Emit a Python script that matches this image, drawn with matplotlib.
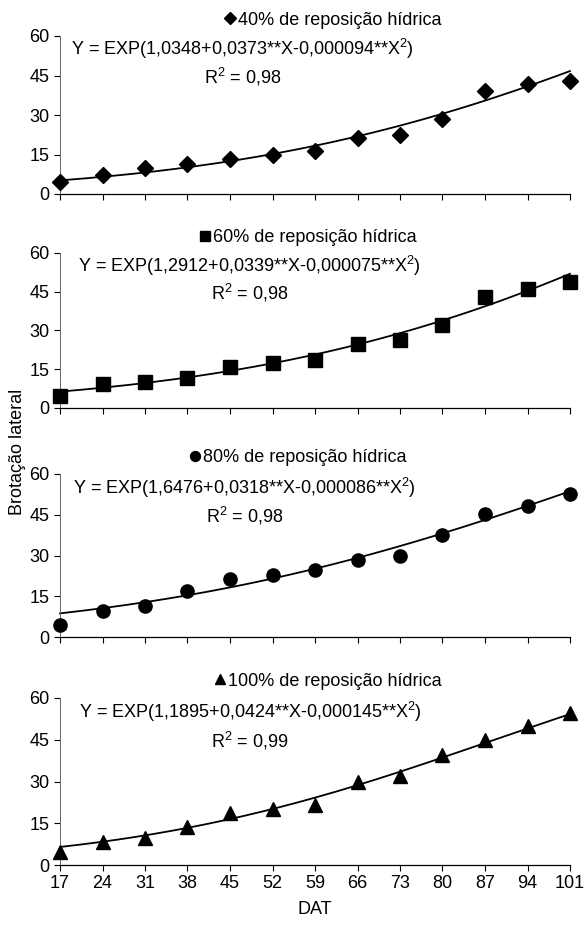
import matplotlib.pyplot as plt
import numpy as np

plt.rcParams["font.family"] = ["Liberation Sans", "DejaVu Sans"]
plt.rcParams["mathtext.fontset"] = "custom"
plt.rcParams["mathtext.rm"] = "Liberation Sans"

# Dias após o transplantio (DAT)
dat = [17, 24, 31, 38, 45, 52, 59, 66, 73, 80, 87, 94, 101]

# Brotação lateral observada em cada nível de reposição hídrica
brot_40 = [4.7, 7.2, 9.7, 11.4, 13.3, 14.9, 16.2, 21.4, 22.4, 28.4, 39.2, 41.7, 42.9]
brot_60 = [4.7, 9.2, 10.2, 11.8, 15.9, 17.3, 18.4, 24.6, 26.5, 32.2, 42.8, 46.2, 48.9]
brot_80 = [4.5, 9.4, 11.3, 17.0, 21.3, 22.7, 24.6, 28.3, 30.0, 37.5, 45.2, 48.3, 52.7]
brot_100 = [4.6, 8.4, 9.6, 13.8, 18.8, 20.2, 21.6, 29.7, 31.8, 39.6, 45.0, 50.0, 54.5]

# Modelo ajustado Y = EXP(b0 + b1*X + b2*X^2)
coef_40 = (1.0348, 0.0373, -0.000094)
coef_60 = (1.2912, 0.0339, -0.000075)
coef_80 = (1.6476, 0.0318, -0.000086)
coef_100 = (1.1895, 0.0424, -0.000145)
r2 = [0.98, 0.98, 0.98, 0.99]

niveis = ["40% de reposição hídrica", "60% de reposição hídrica",
          "80% de reposição hídrica", "100% de reposição hídrica"]

series = [brot_40, brot_60, brot_80, brot_100]
coefs = [coef_40, coef_60, coef_80, coef_100]
markers = ["D", "s", "o", "^"]
msizes = [7.8, 9.5, 9.5, 10]

# posição dos painéis em pixels (topo = 60, base = 0)
W, H = 584, 926
ax_left, ax_right = 60, 570
panels_px = [(36, 194), (253, 408), (474, 637), (698, 865)]
title_x = [0.536, 0.487, 0.467, 0.525]
eq_x = [0.358, 0.371, 0.362, 0.373]

fig = plt.figure(figsize=(W / 100, H / 100), dpi=100)

xs = np.linspace(17, 101, 200)
for i, (top, bot) in enumerate(panels_px):
    ax = fig.add_axes([ax_left / W, 1 - bot / H,
                       (ax_right - ax_left) / W, (bot - top) / H])
    b0, b1, b2 = coefs[i]
    ax.plot(xs, np.exp(b0 + b1 * xs + b2 * xs ** 2), color="black", lw=1.3,
            zorder=2, clip_on=False)
    ax.plot(dat, series[i], markers[i], color="black", ms=msizes[i],
            linestyle="none", label=niveis[i], clip_on=False, zorder=3)

    ax.set_xlim(17, 101)
    ax.set_ylim(0, 60)
    ax.set_xticks(dat)
    ax.set_yticks([0, 15, 30, 45, 60])
    for side in ["top", "right"]:
        ax.spines[side].set_visible(False)
    ax.spines["left"].set_linewidth(0.7)
    ax.spines["left"].set_color("#666666")
    ax.spines["bottom"].set_linewidth(0.9)
    ax.tick_params(direction="out", length=4, width=0.8, labelsize=13,
                   colors="black")
    if i < 3:
        ax.set_xticklabels([])

    eq = "Y = EXP({:.4f}+{:.4f}**X-{:.6f}**X".format(b0, b1, abs(b2))
    eq = eq.replace(".", ",") + r"$\mathregular{^2}$)"
    ax.text(eq_x[i], 55, eq, transform=ax.get_yaxis_transform(),
            ha="center", va="center", fontsize=13)
    ax.text(eq_x[i], 44.5,
            r"R$\mathregular{^2}$ = " + "{:.2f}".format(r2[i]).replace(".", ","),
            transform=ax.get_yaxis_transform(), ha="center", va="center",
            fontsize=13)

    ax.legend(loc="center", bbox_to_anchor=(title_x[i], 1.10), frameon=False,
              handlelength=0.6, handletextpad=0.15, markerscale=0.75,
              fontsize=13, borderaxespad=0, borderpad=0)

    if i == 3:
        ax.set_xlabel("DAT", fontsize=13, labelpad=6)

fig.text(18 / W, 1 - 452 / H, "Brotação lateral", rotation=90,
         ha="center", va="center", fontsize=13)

fig.savefig("out.png", dpi=100)
